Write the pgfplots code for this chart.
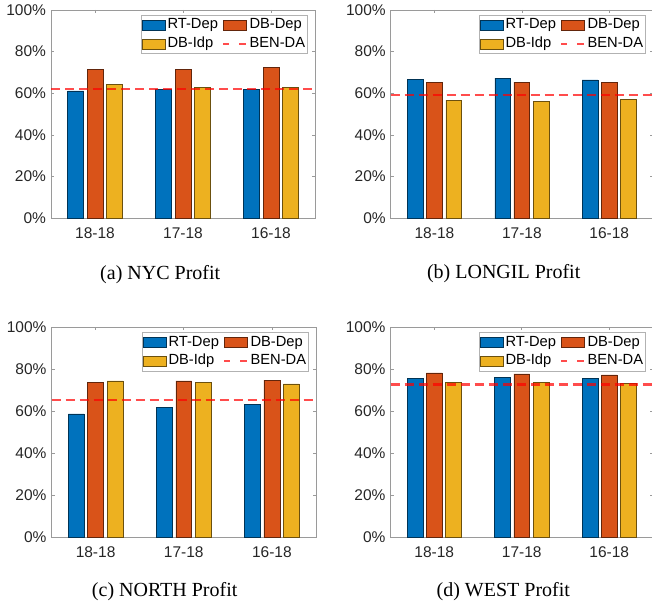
\documentclass[border=0pt]{standalone}
\usepackage{pgfplots}
\pgfplotsset{compat=1.18}
\usepackage{fontspec}
\setmainfont{Liberation Serif}
\newfontfamily\arial{Liberation Sans}
\definecolor{cA}{HTML}{0072BD}
\definecolor{cB}{HTML}{D95319}
\definecolor{cC}{HTML}{EDB120}
\definecolor{axc}{HTML}{9A9A9A}
\definecolor{lbl}{HTML}{262626}
\pgfplotsset{
  sub/.style={
    scale only axis, anchor=south west,
    xmin=0.5, xmax=3.5, ymin=0, ymax=100,
    xtick={1,2,3}, xticklabels={18-18,17-18,16-18},
    ytick={0,20,40,60,80,100}, yticklabels={0\%,20\%,40\%,60\%,80\%,100\%},
    tick align=inside, major tick length=3pt,
    axis line style={axc, line width=0.6pt},
    every tick/.style={axc, line width=0.6pt},
    ticklabel style={font=\arial\fontsize{15.5}{17}\selectfont, text=lbl},
    xticklabel style={yshift=-5.5pt},
    yticklabel style={xshift=-1.5pt},
    legend columns=2,
    legend cell align=left,
    legend style={at={(1,1)}, anchor=north east, xshift=-7pt, yshift=-5pt,
      draw=black!30, line width=0.6pt, fill=white,
      font=\arial\fontsize{14.7}{17}\selectfont, text=black,
      inner sep=0.5pt, nodes={inner sep=2.1pt, text height=11pt, text depth=3.5pt},
      /tikz/every even column/.append style={column sep=2pt}},
  },
  barA/.style={ybar, bar width=0.18, bar shift=-0.22, fill=cA, draw=cA!45!black, line width=0.5pt,
    legend image code/.code={\draw[##1] (0pt,-5pt) rectangle (23pt,5pt);}},
  barB/.style={ybar, bar width=0.18, bar shift=0, fill=cB, draw=cB!45!black, line width=0.5pt,
    legend image code/.code={\draw[##1] (0pt,-5pt) rectangle (23pt,5pt);}},
  barC/.style={ybar, bar width=0.18, bar shift=0.22, fill=cC, draw=cC!45!black, line width=0.5pt,
    legend image code/.code={\draw[##1] (0pt,-5pt) rectangle (23pt,5pt);}},
  ben/.style={red, draw opacity=0.7, line width=2.4pt, dash pattern=on 9pt off 5pt, mark=none,
    legend image code/.code={\draw[##1,solid] (0pt,0pt)--(6pt,0pt); \draw[##1,solid] (16pt,0pt)--(23pt,0pt);}},
}
\begin{document}
\begin{tikzpicture}
\useasboundingbox (0,0) rectangle (652pt,606pt);
% (a) NYC
\begin{axis}[sub, at={(51pt,387.7pt)}, width=264pt, height=208.3pt]
\addplot[barA] coordinates {(1,61.2) (2,61.9) (3,62.0)};
\addplot[barB] coordinates {(1,71.6) (2,71.6) (3,72.3)};
\addplot[barC] coordinates {(1,64.3) (2,62.8) (3,63.0)};
\addplot[ben] coordinates {(0.5,62.2) (3.5,62.2)};
\legend{RT-Dep,DB-Dep,DB-Idp,BEN-DA}
\end{axis}
% (b) LONGIL
\begin{axis}[sub, at={(390.7pt,387.7pt)}, width=262.3pt, height=208.3pt]
\addplot[barA] coordinates {(1,66.8) (2,67.3) (3,66.5)};
\addplot[barB] coordinates {(1,65.2) (2,65.4) (3,65.4)};
\addplot[barC] coordinates {(1,56.7) (2,56.2) (3,57.1)};
\addplot[ben] coordinates {(0.5,59.3) (3.5,59.3)};
\legend{RT-Dep,DB-Dep,DB-Idp,BEN-DA}
\end{axis}
% (c) NORTH
\begin{axis}[sub, at={(51.5pt,68.7pt)}, width=264.5pt, height=210pt]
\addplot[barA] coordinates {(1,58.8) (2,62.0) (3,63.2)};
\addplot[barB] coordinates {(1,73.7) (2,74.5) (3,74.9)};
\addplot[barC] coordinates {(1,74.5) (2,73.6) (3,73.1)};
\addplot[ben] coordinates {(0.5,65.5) (3.5,65.5)};
\legend{RT-Dep,DB-Dep,DB-Idp,BEN-DA}
\end{axis}
% (d) WEST
\begin{axis}[sub, at={(390.5pt,68.7pt)}, width=262.5pt, height=210pt]
\addplot[barA] coordinates {(1,75.8) (2,76.3) (3,75.6)};
\addplot[barB] coordinates {(1,78.3) (2,77.8) (3,77.3)};
\addplot[barC] coordinates {(1,73.9) (2,73.9) (3,73.4)};
\addplot[ben] coordinates {(0.5,72.8) (3.5,72.8)};
\legend{RT-Dep,DB-Dep,DB-Idp,BEN-DA}
\end{axis}
\begin{scope}[every node/.style={anchor=base, font=\fontsize{20}{22}\selectfont, inner sep=0pt}]
\node at (160.2pt,327pt) {(a) NYC Profit};
\node at (503.7pt,327.7pt) {(b) LONGIL Profit};
\node at (164.7pt,10pt) {(c) NORTH Profit};
\node at (503.3pt,10pt) {(d) WEST Profit};
\end{scope}
\end{tikzpicture}
\end{document}
